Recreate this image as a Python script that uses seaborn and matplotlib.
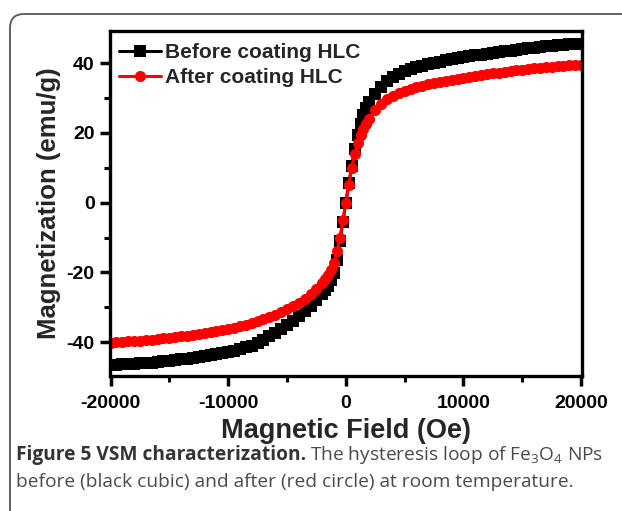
import numpy as np
import pandas as pd
import seaborn as sns
import matplotlib.pyplot as plt
from matplotlib.lines import Line2D
from matplotlib.patches import FancyBboxPatch
from matplotlib.ticker import MultipleLocator
from matplotlib.transforms import IdentityTransform

# applied field (Oe)
field = [-20000, -19500, -19000, -18500, -18000, -17500, -17000, -16500, -16000, -15500,
         -15000, -14500, -14000, -13500, -13000, -12500, -12000, -11500, -11000, -10500,
         -10000, -9500, -9000, -8500, -8000, -7500, -7000, -6500, -6000, -5500,
         -5000, -4500, -4000, -3500, -3000, -2500, -2000, -1750, -1500, -1250,
         -1000, -750, -500, -250, 0, 250, 500, 750, 1000, 1250,
         1500, 1750, 2000, 2500, 3000, 3500, 4000, 4500, 5000, 5500,
         6000, 6500, 7000, 7500, 8000, 8500, 9000, 9500, 10000, 10500,
         11000, 11500, 12000, 12500, 13000, 13500, 14000, 14500, 15000, 15500,
         16000, 16500, 17000, 17500, 18000, 18500, 19000, 19500, 20000]

# magnetization (emu/g)
m_before = [-46.6, -46.5, -46.4, -46.3, -46.2, -46.1, -46.0, -45.85, -45.7, -45.5,
            -45.3, -45.1, -44.9, -44.7, -44.5, -44.3, -44.0, -43.8, -43.5, -43.2,
            -42.9, -42.5, -42.0, -41.5, -41.0, -40.2, -39.3, -38.3, -37.3, -36.2,
            -35.0, -33.9, -32.6, -31.2, -29.7, -28.0, -26.3, -25.0, -23.8, -22.3,
            -20.3, -16.5, -11.0, -5.5, 0.0, 5.5, 10.5, 15.5, 19.5, 22.5,
            25.0, 27.0, 28.8, 31.2, 33.2, 34.8, 36.0, 36.9, 37.7, 38.3,
            38.8, 39.3, 39.7, 40.1, 40.4, 40.8, 41.1, 41.4, 41.7, 41.95,
            42.2, 42.45, 42.7, 42.95, 43.2, 43.4, 43.6, 43.85, 44.05, 44.25,
            44.45, 44.65, 44.8, 44.95, 45.1, 45.25, 45.4, 45.5, 45.6]

m_after = [-40.1, -40.0, -39.9, -39.8, -39.7, -39.6, -39.45, -39.3, -39.1, -38.9,
           -38.7, -38.5, -38.3, -38.1, -37.9, -37.6, -37.4, -37.1, -36.8, -36.5,
           -36.2, -35.8, -35.4, -35.0, -34.5, -34.0, -33.4, -32.8, -32.1, -31.4,
           -30.6, -29.7, -28.7, -27.6, -26.3, -24.8, -23.1, -22.0, -20.8, -19.3,
           -17.2, -14.0, -10.0, -5.0, 0.0, 5.0, 10.0, 14.0, 17.0, 19.3,
           21.0, 22.5, 24.0, 26.5, 28.3, 29.6, 30.6, 31.4, 32.1, 32.6,
           33.1, 33.5, 33.9, 34.3, 34.6, 34.9, 35.2, 35.5, 35.8, 36.1,
           36.4, 36.6, 36.9, 37.1, 37.3, 37.5, 37.7, 37.9, 38.1, 38.3,
           38.5, 38.7, 38.85, 39.0, 39.15, 39.3, 39.4, 39.5, 39.6]

labels = ['Before coating HLC', 'After coating HLC']
colors = ['black', 'red']
markers = ['s', 'o']

sns.set_style("ticks")
plt.rcParams['font.family'] = ['Liberation Sans', 'DejaVu Sans']
plt.rcParams['axes.unicode_minus'] = False
plt.rcParams['mathtext.fontset'] = 'custom'
plt.rcParams['mathtext.rm'] = 'Open Sans'
plt.rcParams['mathtext.it'] = 'Open Sans:italic'
plt.rcParams['mathtext.bf'] = 'Open Sans:bold'

df = pd.DataFrame({
    'field': field + field,
    'M': m_before + m_after,
    'sample': [labels[0]] * len(field) + [labels[1]] * len(field),
})

fig = plt.figure(figsize=(6.22, 5.11), dpi=100)
ax = fig.add_axes([0.1768, 0.2642, 0.7584, 0.6751])

sns.lineplot(data=df, x='field', y='M', hue='sample', style='sample',
             markers=markers, dashes=False, palette=colors, markersize=8,
             markeredgewidth=0, linewidth=2.2, sort=False, legend=False, ax=ax)

ax.set_xlim(-20050, 20050)
ax.set_ylim(-49.7, 49.2)
ax.xaxis.set_major_locator(MultipleLocator(10000))
ax.xaxis.set_minor_locator(MultipleLocator(5000))
ax.yaxis.set_major_locator(MultipleLocator(20))
ax.yaxis.set_minor_locator(MultipleLocator(10))
ax.tick_params(which='major', direction='out', length=7, width=2.5,
               labelsize=14, pad=4, color='black', labelcolor='black')
ax.tick_params(axis='x', which='major', pad=7)
ax.tick_params(which='minor', direction='out', length=4.5, width=2.2, color='black')
for sp in ax.spines.values():
    sp.set_linewidth(2.4)
    sp.set_color('black')
for lab in ax.get_xticklabels() + ax.get_yticklabels():
    lab.set_fontweight('bold')

ax.set_xlabel('Magnetic Field (Oe)', fontsize=19.5, fontweight='bold', labelpad=4)
ax.set_ylabel('Magnetization (emu/g)', fontsize=18.5, fontweight='bold', labelpad=4)

handles = [Line2D([], [], color=c, marker=m, markersize=8, markeredgewidth=0, lw=2.2)
           for c, m in zip(colors, markers)]
ax.legend(handles, labels, loc='upper left', bbox_to_anchor=(-0.02, 1.02),
          frameon=False, handlelength=2.0, handletextpad=0.2, labelspacing=0.3,
          prop={'family': 'Liberation Sans', 'weight': 'bold', 'size': 15})

# caption under the chart
cap_y = 1 - 455 / 511
t1 = fig.text(16 / 622, cap_y, 'Figure 5 VSM characterization.', fontfamily='Open Sans',
              fontweight='bold', fontsize=13.8, color='#333333', va='center')
fig.canvas.draw()
bb = t1.get_window_extent(renderer=fig.canvas.get_renderer())
fig.text(bb.x1 / 622 + 0.006, cap_y, r'The hysteresis loop of Fe$_3$O$_4$ NPs',
         fontfamily='Open Sans', fontsize=13.8, color='#4a4a4a', va='center')
fig.text(16 / 622, 1 - 482 / 511,
         'before (black cubic) and after (red circle) at room temperature.',
         fontfamily='Open Sans', fontsize=13.8, color='#4a4a4a', va='center')

# rounded panel frame
frame = FancyBboxPatch((10, -30), 640, 527, boxstyle='round,pad=0,rounding_size=14',
                       transform=IdentityTransform(), facecolor='none',
                       edgecolor='#555555', linewidth=1.3)
fig.add_artist(frame)

fig.savefig('out.png', dpi=100)
